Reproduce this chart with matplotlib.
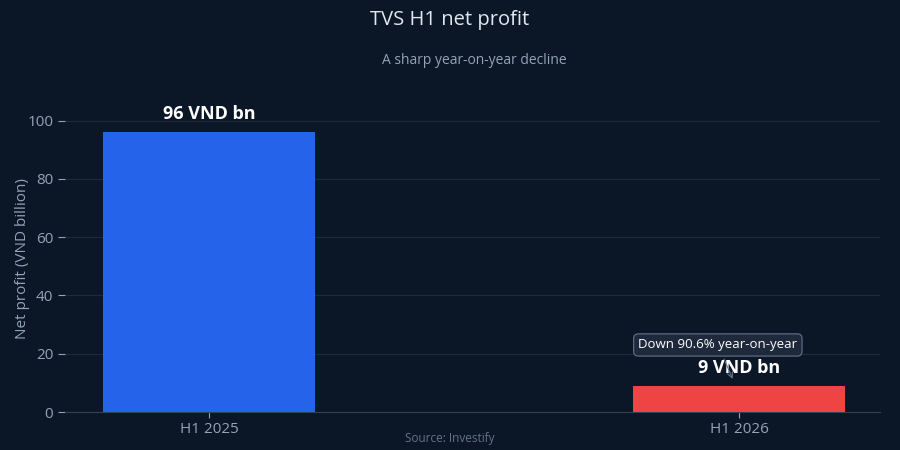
import matplotlib

matplotlib.use("Agg")

import matplotlib.pyplot as plt

plt.rcParams["font.family"] = ["Open Sans", "DejaVu Sans"]

categories = ["H1 2025", "H1 2026"]
profits = [96, 9]
bar_colors = ["#2563eb", "#ef4444"]
value_labels = ["96 VND bn", "9 VND bn"]

BG = "#0b1626"
MUTED = "#94a3b8"

fig = plt.figure(figsize=(9, 4.5), dpi=100, facecolor=BG)
ax = fig.add_axes([65 / 900, 38 / 450, 815 / 900, 306 / 450], facecolor=BG)

x = list(range(len(categories)))
ax.bar(x, profits, width=0.4, color=bar_colors, zorder=3)
for xi, val, lab in zip(x, profits, value_labels):
    ax.text(xi, val + 3, lab, ha="center", va="bottom", color="white",
            fontsize=13, fontweight="bold", zorder=4)

ax.annotate(
    "Down 90.6% year-on-year", xy=(1 - 0.01, profits[1] + 1.5), xytext=(0.96, 23),
    ha="center", va="center", color="white", fontsize=9.5,
    bbox=dict(boxstyle="round,pad=0.35", fc="#1e293b", ec="#64748b", lw=0.8),
    arrowprops=dict(arrowstyle="->", color="#64748b", lw=0.8), zorder=5,
)

ax.set_xlim(-0.272, 1.266)
ax.set_ylim(0, 105)
ax.set_yticks([0, 20, 40, 60, 80, 100])
ax.set_xticks(x)
ax.set_xticklabels(categories)
ax.tick_params(colors=MUTED, labelsize=11, length=4)
ax.tick_params(axis="y", length=5)
ax.grid(axis="y", color="#1e2a3c", lw=0.8, zorder=0)
for side in ["top", "right", "left"]:
    ax.spines[side].set_visible(False)
ax.spines["bottom"].set_color("#334155")
ax.set_ylabel("Net profit (VND billion)", color=MUTED, fontsize=11)
ax.yaxis.set_label_coords(-0.043, 0.5)

fig.text(0.5, 0.955, "TVS H1 net profit", ha="center", va="center", color="#e2e8f0", fontsize=14.5)
fig.text(0.527, 0.865, "A sharp year-on-year decline", ha="center", va="center", color=MUTED, fontsize=10)
fig.text(0.5, 0.025, "Source: Investify", ha="center", va="center", color="#64748b", fontsize=8.5)

fig.savefig("out.png", dpi=100, facecolor=BG)
